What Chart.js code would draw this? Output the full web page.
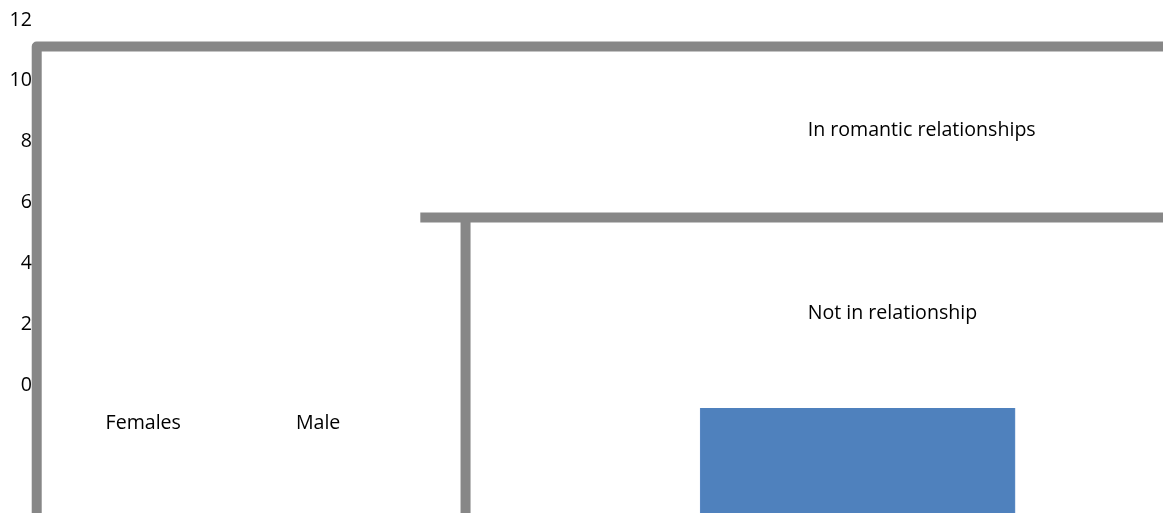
<!DOCTYPE html>
<html>
<head>
<meta charset="utf-8">
<style>
  html, body { margin: 0; padding: 0; background: #fff; }
  canvas { display: block; }
</style>
<script src="https://cdn.jsdelivr.net/npm/chart.js@4/dist/chart.umd.min.js"></script>
</head>
<body>
<canvas id="chart" width="1163" height="513"></canvas>
<script>
'use strict';

// --- Data ---
const yTicks = [0, 2, 4, 6, 8, 10, 12];

// outer frame line (left post + top rail)
const outerFrameX = [0.05, 0.05, 12.5];
const outerFrameY = [-5, 11.13, 11.13];

// inner shelf line and its post
const shelfX = [4.12, 12.5];
const shelfY = [5.51, 5.51];
const postX = [4.6, 4.6];
const postY = [5.51, -5];

// the single blue bar (floating)
const barX = [8.76];
const barTop = [-0.76];
const barBottom = [-5];

// text labels
const labelText = ['In romantic relationships', 'Not in relationship', 'Females', 'Male'];
const labelX = [8.23, 8.23, 0.78, 2.80];
const labelY = [8.36, 2.37, -1.28, -1.28];

const FONT = '"Open Sans", sans-serif';
const FONT_SIZE = 19.6;
const GRAY = '#878787';

function points(xs, ys) {
  return xs.map((x, i) => ({ x: x, y: ys[i] }));
}

// --- Text labels plugin ---
const textLabels = {
  id: 'textLabels',
  afterDatasetsDraw(chart) {
    const ctx = chart.ctx;
    const x = chart.scales.x;
    const y = chart.scales.y;
    ctx.save();
    ctx.font = FONT_SIZE + 'px ' + FONT;
    ctx.fillStyle = '#000';
    ctx.textAlign = 'left';
    ctx.textBaseline = 'middle';
    labelText.forEach((t, i) => {
      ctx.fillText(t, x.getPixelForValue(labelX[i]), y.getPixelForValue(labelY[i]));
    });
    ctx.restore();
  }
};

const lineStyle = {
  type: 'line',
  borderColor: GRAY,
  borderWidth: 10,
  pointRadius: 0,
  fill: false,
  tension: 0,
  borderCapStyle: 'butt',
  clip: false
};

new Chart(document.getElementById('chart').getContext('2d'), {
  data: {
    datasets: [
      Object.assign({}, lineStyle, { data: points(outerFrameX, outerFrameY), borderJoinStyle: 'round' }),
      Object.assign({}, lineStyle, { data: points(shelfX, shelfY) }),
      Object.assign({}, lineStyle, { data: points(postX, postY) }),
      {
        type: 'bar',
        data: barX.map((x, i) => ({ x: x, y: [barTop[i], barBottom[i]] })),
        backgroundColor: '#4F81BD',
        borderColor: '#5B8AC4',
        borderWidth: 1,
        barThickness: 315
      }
    ]
  },
  options: {
    responsive: false,
    animation: false,
    devicePixelRatio: 1,
    layout: { padding: 0, autoPadding: false },
    plugins: { legend: { display: false }, tooltip: { enabled: false } },
    scales: {
      x: {
        type: 'linear',
        min: 0,
        max: 12,
        offset: false,
        display: false
      },
      y: {
        type: 'linear',
        min: -4.21,
        max: 12.66,
        grid: { display: false, drawTicks: false },
        border: { display: false },
        ticks: { padding: 0, color: '#000', font: { family: FONT, size: FONT_SIZE } },
        afterBuildTicks: axis => { axis.ticks = yTicks.map(v => ({ value: v })); },
        afterFit: axis => {
          axis.width = 32;
          axis.paddingTop = 0;
          axis.paddingBottom = 0;
        }
      }
    }
  },
  plugins: [textLabels]
});
</script>
</body>
</html>
